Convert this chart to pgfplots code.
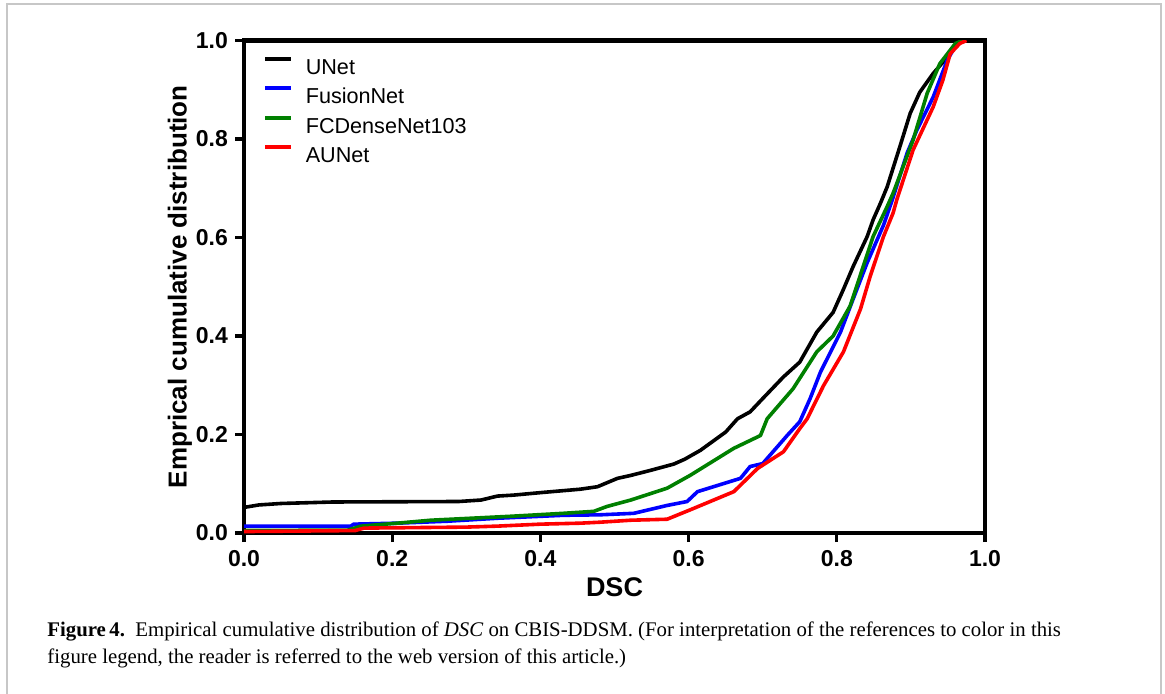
\documentclass[border=0pt]{standalone}
\usepackage{fontspec}
\setmainfont{Liberation Sans}
\newfontfamily\capserif{Liberation Serif}
\usepackage{pgfplots}
\pgfplotsset{compat=1.18}
\usepackage{pgfplotstable}
\definecolor{cgreen}{RGB}{0,128,0}
\definecolor{cblue}{RGB}{0,0,255}
\definecolor{cred}{RGB}{255,0,0}

\pgfplotstableread{
x y
0.000 0.052
0.020 0.057
0.050 0.060
0.120 0.063
0.290 0.064
0.320 0.067
0.342 0.075
0.364 0.077
0.400 0.082
0.454 0.089
0.477 0.094
0.504 0.111
0.522 0.117
0.548 0.127
0.580 0.140
0.595 0.150
0.616 0.168
0.650 0.205
0.666 0.232
0.683 0.246
0.700 0.273
0.728 0.317
0.750 0.347
0.773 0.408
0.795 0.448
0.809 0.495
0.822 0.541
0.841 0.602
0.849 0.636
0.859 0.670
0.868 0.703
0.885 0.784
0.899 0.852
0.912 0.895
0.930 0.933
0.949 0.966
0.962 0.994
0.975 1.000
}\unet

\pgfplotstableread{
x y
0.000 0.014
0.144 0.014
0.148 0.018
0.207 0.020
0.275 0.024
0.342 0.030
0.431 0.036
0.481 0.037
0.526 0.040
0.571 0.056
0.598 0.064
0.612 0.084
0.670 0.111
0.683 0.135
0.700 0.141
0.733 0.198
0.750 0.226
0.764 0.273
0.778 0.327
0.805 0.408
0.822 0.475
0.841 0.549
0.863 0.625
0.875 0.677
0.895 0.772
0.908 0.818
0.930 0.885
0.949 0.960
0.962 0.994
0.970 1.000
}\fusion

\pgfplotstableread{
x y
0.000 0.005
0.140 0.006
0.158 0.014
0.207 0.020
0.252 0.026
0.360 0.034
0.431 0.040
0.472 0.044
0.490 0.054
0.522 0.067
0.571 0.091
0.602 0.117
0.661 0.172
0.697 0.198
0.706 0.232
0.741 0.293
0.773 0.368
0.795 0.400
0.818 0.461
0.849 0.602
0.868 0.663
0.876 0.690
0.903 0.798
0.922 0.893
0.939 0.953
0.960 0.994
0.970 1.000
}\fcdense

\pgfplotstableread{
x y
0.000 0.003
0.150 0.005
0.162 0.010
0.300 0.012
0.342 0.014
0.400 0.018
0.454 0.020
0.481 0.022
0.522 0.026
0.571 0.028
0.602 0.047
0.661 0.084
0.693 0.131
0.728 0.165
0.750 0.212
0.760 0.232
0.782 0.299
0.809 0.368
0.832 0.455
0.845 0.521
0.863 0.602
0.876 0.650
0.881 0.677
0.903 0.778
0.930 0.865
0.943 0.919
0.953 0.973
0.966 0.994
0.975 1.000
}\aunet

\begin{document}
\begin{tikzpicture}
\useasboundingbox (0,0) rectangle (582.5pt,-346.5pt);
\draw[black!22, line width=1pt] (3.5pt,-350pt) -- (3.5pt,-2pt) -- (580.5pt,-2pt) -- (580.5pt,-350pt);
\begin{axis}[
  at={(122pt,-266.5pt)}, anchor=south west,
  scale only axis, width=370.5pt, height=246.25pt,
  xmin=0, xmax=1, ymin=0, ymax=1,
  xtick={0,0.2,0.4,0.6,0.8,1}, ytick={0,0.2,0.4,0.6,0.8,1},
  tick align=outside, tick pos=left,
  major tick length=4.5pt,
  every tick/.style={black, line width=1.6pt},
  axis line style={line width=2.3pt, line cap=rect},
  /pgf/number format/fixed,
  /pgf/number format/fixed zerofill,
  /pgf/number format/precision=1,
  /pgf/number format/assume math mode=true,
  ticklabel style={font=\fontsize{11.5}{13}\selectfont\bfseries},
  xticklabel style={yshift=-0.5pt},
  xlabel={DSC},
  ylabel={Emprical cumulative distribution},
  xlabel style={font=\fontsize{13.5}{15}\selectfont\bfseries, at={(axis description cs:0.5,0)}, anchor=center, yshift=-27pt},
  ylabel style={font=\fontsize{13}{15}\selectfont\bfseries, at={(axis description cs:-0.0864,0.5)}, anchor=center},
  legend style={at={(axis description cs:0,1)}, anchor=north west, xshift=9.5pt, yshift=-7.8pt,
    draw=none, fill=none, inner sep=0pt, font=\fontsize{10.8}{12}\selectfont, row sep=6.0pt,
    nodes={inner sep=0pt, text height=7.8pt, text depth=0pt},
    /tikz/every odd column/.append style={column sep=6.2pt}},
  legend cell align=left,
  legend image code/.code={\draw[#1, line width=2pt] (0pt,3.9pt) -- (13pt,3.9pt);},
]
\addplot[black, line width=1.8pt, line join=round] table {\unet};
\addlegendentry{UNet}
\addplot[cblue, line width=1.8pt, line join=round] table {\fusion};
\addlegendentry{FusionNet}
\addplot[cgreen, line width=1.8pt, line join=round] table {\fcdense};
\addlegendentry{FCDenseNet103}
\addplot[cred, line width=1.8pt, line join=round] table {\aunet};
\addlegendentry{AUNet}
\end{axis}
\node[anchor=base west, inner sep=0pt, font=\capserif\fontsize{10.4}{13.5}\selectfont] at (23.5pt,-318pt) {\textbf{Figure\,4.}\enspace Empirical cumulative distribution of \textit{DSC} on CBIS-DDSM. (For interpretation of the references to color in this};
\node[anchor=base west, inner sep=0pt, font=\capserif\fontsize{10.4}{13.5}\selectfont] at (23.5pt,-331.5pt) {figure legend, the reader is referred to the web version of this article.)};
\end{tikzpicture}
\end{document}
